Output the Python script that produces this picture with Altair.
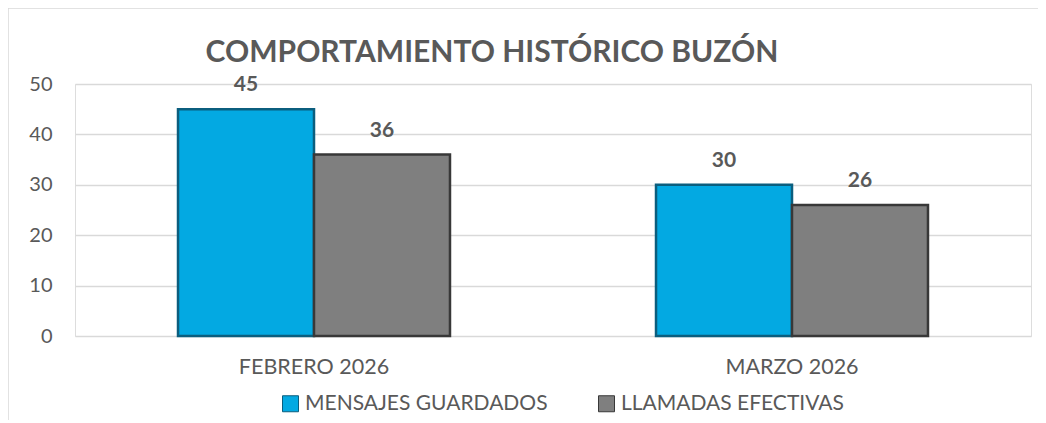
import altair as alt
import pandas as pd

months = ["FEBRERO 2026", "FEBRERO 2026", "MARZO 2026", "MARZO 2026"]
series = ["MENSAJES GUARDADOS", "LLAMADAS EFECTIVAS", "MENSAJES GUARDADOS", "LLAMADAS EFECTIVAS"]
values = [45, 36, 30, 26]
series_order = ["MENSAJES GUARDADOS", "LLAMADAS EFECTIVAS"]
series_colors = ["#03A9E2", "#7F7F7F"]
y_ticks = [0, 10, 20, 30, 40, 50]
title_text = "COMPORTAMIENTO HISTÓRICO BUZÓN"

df = pd.DataFrame({"mes": months, "serie": series, "valor": values})

FONT = "Lato"
TXT = "#595959"
W, H = 956, 252

x = alt.X("mes:N", title=None, sort=["FEBRERO 2026", "MARZO 2026"],
          scale=alt.Scale(paddingInner=0.431, paddingOuter=0.2155),
          axis=alt.Axis(labelAngle=0, labelFont=FONT, labelFontSize=21.5, labelColor=TXT,
                        ticks=False, domain=False, labelPadding=20))
xo = alt.XOffset("serie:N", sort=series_order, scale=alt.Scale(paddingInner=0, paddingOuter=0))
y = alt.Y("valor:Q", title=None,
          scale=alt.Scale(domain=[0, 50], nice=False),
          axis=alt.Axis(values=y_ticks, labelFont=FONT, labelFontSize=20, labelColor=TXT,
                        ticks=False, domain=False, labelPadding=23,
                        gridColor="#D9D9D9", gridWidth=1.5))
color = alt.Color("serie:N", sort=series_order,
                  scale=alt.Scale(domain=series_order, range=series_colors),
                  legend=alt.Legend(title=None, orient="none", direction="horizontal",
                                    legendX=205, legendY=309, labelLimit=400,
                                    labelFont=FONT, labelFontSize=21, labelColor=TXT,
                                    symbolType="square", symbolSize=256,
                                    symbolStrokeColor="#333333", symbolStrokeWidth=1,
                                    columnPadding=48, labelOffset=4))
stroke = alt.Stroke("serie:N", sort=series_order,
                    scale=alt.Scale(domain=series_order, range=["#0B5E7E", "#383838"]),
                    legend=None)

base = alt.Chart(df)

bars = base.mark_bar(strokeWidth=2.5).encode(x=x, xOffset=xo, y=y, color=color, stroke=stroke)

labels = base.mark_text(font=FONT, fontSize=21, fontWeight="bold", color=TXT,
                        baseline="bottom", dy=-14).encode(
    x=x, xOffset=xo, y=y, text=alt.Text("valor:Q"))

title = alt.Chart(pd.DataFrame({"t": [title_text]})).mark_text(
    font=FONT, fontSize=30, fontWeight="bold", color=TXT, align="center", baseline="middle"
).encode(x=alt.value(417), y=alt.value(-31), text="t:N")

frame_top = alt.Chart(pd.DataFrame({"a": [0]})).mark_rule(color="#D9D9D9", strokeWidth=1.5).encode(
    x=alt.value(-67), x2=alt.value(980), y=alt.value(-76))
frame_left = alt.Chart(pd.DataFrame({"a": [0]})).mark_rule(color="#D9D9D9", strokeWidth=1.5).encode(
    x=alt.value(-67), y=alt.value(-76), y2=alt.value(340))

chart = alt.layer(frame_top, frame_left, bars, labels, title).properties(
    width=W, height=H,
    autosize=alt.AutoSizeParams(type="none"),
    padding={"left": 67, "top": 76, "right": 7, "bottom": 84},
).configure_view(stroke=None).configure(background="white")

chart.save("out.html", embed_options={"renderer": "svg", "actions": False})
